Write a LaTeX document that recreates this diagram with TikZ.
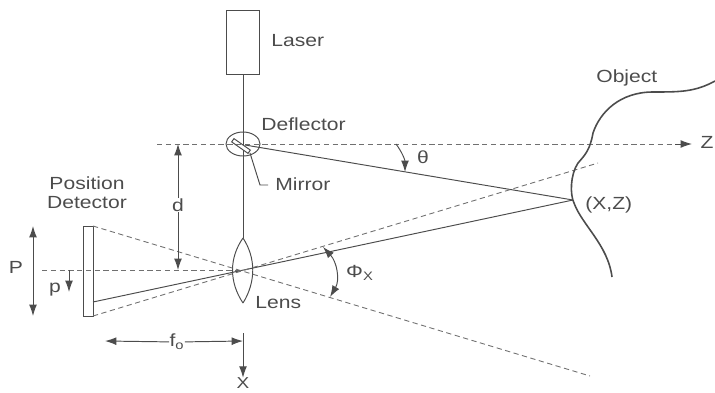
\documentclass[tikz,border=0pt]{standalone}
\usepackage{fontspec}
\setmainfont[FakeStretch=1.2]{Liberation Sans}
\usetikzlibrary{arrows.meta}
\definecolor{inkgrey}{gray}{0.3}
\tikzset{
lbl/.style={inner sep=0pt,text=inkgrey,font=\fontsize{10}{13}\selectfont},
solidline/.style={draw=inkgrey,line width=.55pt},
dashline/.style={draw=inkgrey!80,line width=.5pt,dash pattern=on 3pt off 2pt},
}
\begin{document}
\begin{tikzpicture}[x=.02cm,y=-.02cm,>={Latex[length=6.5pt,width=4.5pt]}]
\useasboundingbox (0,0) rectangle (715,392);

\coordinate (lenstop) at (243,238);
\coordinate (lensbot) at (243,303);
\coordinate (lensc) at (243,270);
\coordinate (defl) at (243,144);
\coordinate (hit) at (573,200);
\coordinate (dettop) at (93,226);
\coordinate (detbot) at (93,316);
\coordinate (detmid) at (93,302);

% labels
\node[lbl,anchor=west] (laserlbl) at (271,41) {Laser};
\node[lbl,anchor=west] (defllbl) at (261,124) {Deflector};
\node[lbl,anchor=west] (mirrorlbl) at (275,184) {Mirror};
\node[lbl,anchor=west] (lenslbl) at (255,303) {Lens};
\node[lbl,anchor=west] (objlbl) at (596,78) {Object};
\node[lbl,anchor=west] (hitlbl) at (585,205) {(X,Z)};
\node[lbl,align=center] (detlbl) at (87,193) {Position\\[-2pt]Detector};
\node[lbl] (Plbl) at (16,267) {P};
\node[lbl] (plbl) at (55,290) {p};
\node[lbl] (dlbl) at (178,205) {d};
\node[lbl] (folbl) at (177,342) {f\textsubscript{o}};
\node[lbl,font=\fontsize{9}{11}\selectfont] (Xlbl) at (243,383.5) {X};
\node[lbl] (Zlbl) at (707,142) {Z};
\node[lbl] (thetalbl) at (423,157) {θ};
\node[lbl] (philbl) at (360,273) {Φ\textsubscript{X}};

% laser, beam and deflector
\node[solidline,draw,minimum width=.66cm,minimum height=1.28cm,inner sep=0pt] (laser) at (243,42) {};
\draw[solidline] (laser.south) -- (lenstop);
\draw[solidline] (defl) ellipse (17 and 12);
\node[solidline,draw,fill=white,rotate=-35,minimum width=.4cm,minimum height=.08cm,inner sep=0pt] (mirror) at (241,146) {};
\coordinate (mirrorbend) at (260,185);
\coordinate (mirrorend) at (268,185);
\draw[solidline] (250,153) -- (mirrorbend) -- (mirrorend);

% axes
\coordinate (zleft) at (157,144);
\coordinate (zend) at (675,144);
\draw[dashline] (zleft) -- (zend);
\draw[solidline,->] (zend) -- (692,144);
\coordinate (optleft) at (42,270);
\draw[dashline] (optleft) -- (lensc);
\coordinate (xtop) at (243,333);
\draw[solidline,->] (xtop) -- (Xlbl);

% lens and detector
\draw[solidline] (lenstop) .. controls (229,258) and (229,282) .. (lensbot);
\draw[solidline] (lenstop) .. controls (256,258) and (256,282) .. (lensbot);
\draw[solidline] (83,226) rectangle (detbot);

% rays
\draw[solidline] (245,145) -- (hit);
\draw[solidline] (detmid) -- (hit);
\coordinate (dashend) at (590,376);
\coordinate (dashup) at (598,163);
\draw[dashline] (dettop) -- (dashend);
\draw[dashline] (detbot) -- (dashup);

% dimensions
\draw[solidline,<->] (33,226) -- (33,316);
\draw[solidline,->] (69,270) -- (69,292);
\draw[solidline,->] (dlbl) -- (178,144);
\draw[solidline,->] (dlbl) -- (178,270);
\draw[solidline,->] (folbl) -- (105,341);
\draw[solidline,->] (folbl) -- (243,341);

% angles
\draw[solidline,->] (396,144) .. controls (402,152) and (405,160) .. (405,172);
\draw[solidline,<->] (323,247) .. controls (337,262) and (340,280) .. (330,297);

% object
\draw[line width=.9pt,draw=inkgrey] (715,81) .. controls (695,92) and (680,92) .. (653,92)
 .. controls (620,92) and (600,112) .. (593,133)
 .. controls (590,150) and (585,155) .. (578,163)
 .. controls (570,175) and (570,195) .. (574,203)
 .. controls (582,225) and (608,245) .. (612,277);
\end{tikzpicture}
\end{document}
